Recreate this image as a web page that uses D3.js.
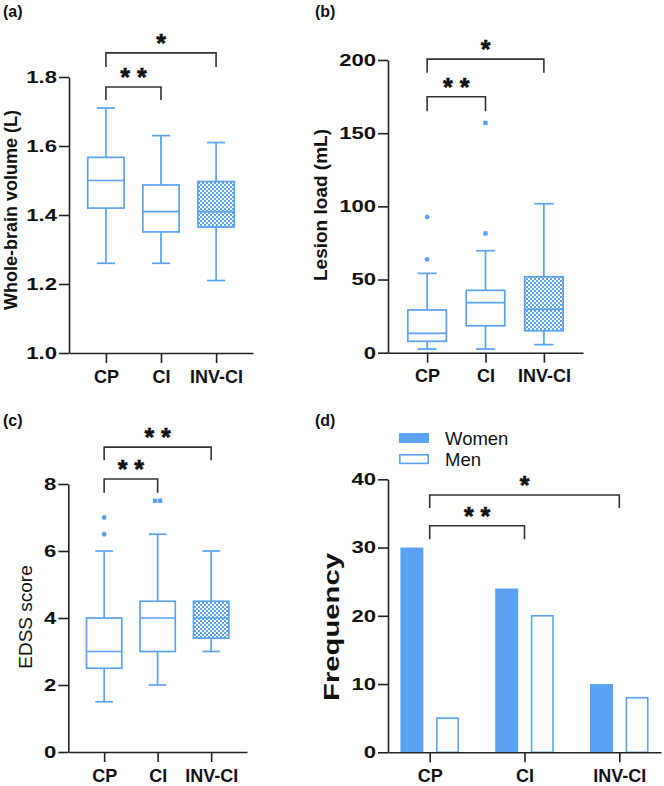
<!DOCTYPE html>
<html>
<head>
<meta charset="utf-8">
<script src="https://cdn.jsdelivr.net/npm/d3@7"></script>
<style>
  body { margin: 0; background: #fff; }
  svg { display: block; font-family: "Liberation Sans", Arial, sans-serif; }
</style>
</head>
<body>
<svg id="fig" width="664" height="786"></svg>
<script>
const groups = ["CP", "CI", "INV-CI"];

// box stats per group: [min, q1, median, q3, max]
const wbvStats = [[1.26, 1.42, 1.50, 1.567, 1.71], [1.26, 1.351, 1.41, 1.487, 1.63], [1.21, 1.365, 1.41, 1.497, 1.61]];
const wbvOutliers = [[], [], []];
const wbvTicks = [1.0, 1.2, 1.4, 1.6, 1.8];

const lesionStats = [[2.5, 7.8, 13.2, 29.2, 54.2], [2.5, 18.4, 34.2, 42.6, 69.7], [5.5, 15.0, 29.6, 51.9, 101.8]];
const lesionOutliers = [[63.8, 92.7], [81.5, 157], []];
const lesionTicks = [0, 50, 100, 150, 200];

const edssStats = [[1.5, 2.5, 3.0, 4.0, 6.0], [2.0, 3.0, 4.0, 4.5, 6.5], [3.0, 3.4, 4.0, 4.5, 6.0]];
const edssOutliers = [[6.5, 7.0], [7.5, 7.5], []];
const edssTicks = [0, 2, 4, 6, 8];

const sexes = ["Women", "Men"];
const women = [30, 24, 10];
const men = [5, 20, 8];
const freqTicks = [0, 10, 20, 30, 40];

const blue = "#5aa2f6";
const ink = "#222";

const svg = d3.select("#fig");

// checker pattern for INV-CI boxes
const pat = svg.append("defs").append("pattern")
    .attr("id", "check")
    .attr("width", 4).attr("height", 4)
    .attr("patternUnits", "userSpaceOnUse");
pat.append("rect").attr("width", 4).attr("height", 4).attr("fill", "#fff");
pat.append("rect").attr("width", 2).attr("height", 2).attr("fill", blue);
pat.append("rect").attr("x", 2).attr("y", 2).attr("width", 2).attr("height", 2).attr("fill", blue);

function drawAxes(x, y, ticks, fmt) {
    let xa = svg.append("g")
        .attr("transform", `translate(0,${y.range()[0]})`)
        .call(d3.axisBottom(x).tickSize(10).tickSizeOuter(0).tickPadding(7));
    xa.selectAll("text")
        .style("font-size", "18px").style("font-weight", "bold").attr("fill", "#111");

    let ya = svg.append("g")
        .attr("transform", `translate(${x.range()[0]},0)`)
        .call(d3.axisLeft(y).tickValues(ticks).tickFormat(fmt).tickSize(10).tickSizeOuter(0));
    // tick numbers are drawn wide in the original
    ya.selectAll("text")
        .style("font-size", "17px").style("font-weight", "bold").attr("fill", "#111")
        .attr("transform", "scale(1.3,1)")
        .attr("x", -12 / 1.3);

    svg.selectAll(".domain, .tick line").attr("stroke", ink).attr("stroke-width", 1.6);
}

function drawBoxes(x, y, stats, outliers) {
    let bw = x.step() * 0.66;
    let data = groups.map((g, i) => ({
        g, min: stats[i][0], q1: stats[i][1], med: stats[i][2], q3: stats[i][3], max: stats[i][4]
    }));
    let box = svg.append("g")
        .attr("stroke", blue).attr("stroke-width", 1.7).attr("fill", "none")
        .selectAll("g").data(data).join("g");

    box.append("line")
        .attr("x1", d => x(d.g)).attr("x2", d => x(d.g))
        .attr("y1", d => y(d.max)).attr("y2", d => y(d.min));
    box.append("line")
        .attr("x1", d => x(d.g) - bw / 4).attr("x2", d => x(d.g) + bw / 4)
        .attr("y1", d => y(d.max)).attr("y2", d => y(d.max));
    box.append("line")
        .attr("x1", d => x(d.g) - bw / 4).attr("x2", d => x(d.g) + bw / 4)
        .attr("y1", d => y(d.min)).attr("y2", d => y(d.min));
    box.append("rect")
        .attr("x", d => x(d.g) - bw / 2).attr("width", bw)
        .attr("y", d => y(d.q3)).attr("height", d => y(d.q1) - y(d.q3))
        .attr("fill", d => d.g === "INV-CI" ? "url(#check)" : "#fff");
    box.append("line")
        .attr("x1", d => x(d.g) - bw / 2).attr("x2", d => x(d.g) + bw / 2)
        .attr("y1", d => y(d.med)).attr("y2", d => y(d.med));

    // outliers: circles for CP, squares for CI; equal values sit side by side
    let pts = [];
    groups.forEach((g, i) => {
        outliers[i].forEach(v => {
            let same = outliers[i].filter(o => o === v);
            let k = pts.filter(p => p.g === g && p.v === v).length;
            pts.push({g, v, off: (k - (same.length - 1) / 2) * 5});
        });
    });
    svg.selectAll(null).data(pts.filter(p => p.g === "CP")).join("circle")
        .attr("cx", d => x(d.g) + d.off).attr("cy", d => y(d.v)).attr("r", 2.4).attr("fill", blue);
    svg.selectAll(null).data(pts.filter(p => p.g !== "CP")).join("rect")
        .attr("x", d => x(d.g) + d.off - 2.2).attr("y", d => y(d.v) - 2.2)
        .attr("width", 4.4).attr("height", 4.4).attr("fill", blue);
}

function bracket(x, y, from, to, top, leg, label) {
    svg.append("path")
        .attr("d", `M${x(from)},${y(leg)}V${y(top)}H${x(to)}V${y(leg)}`)
        .attr("fill", "none").attr("stroke", "#333").attr("stroke-width", 1.6);
    svg.append("text")
        .attr("x", (x(from) + x(to)) / 2).attr("y", y(top) - 1)
        .attr("text-anchor", "middle")
        .style("font-size", "25px").style("font-weight", "bold")
        .attr("fill", "#111").attr("stroke", "#111").attr("stroke-width", 0.6)
        .text(label);
}

function yTitle(tx, ty, label, size, weight, len) {
    let t = svg.append("text")
        .attr("transform", `translate(${tx},${ty}) rotate(-90)`)
        .attr("text-anchor", "middle")
        .style("font-size", size + "px").style("font-weight", weight).attr("fill", "#111")
        .text(label);
    if (len) t.attr("textLength", len).attr("lengthAdjust", "spacingAndGlyphs");
}

function panelLabel(tx, ty, label) {
    svg.append("text").attr("x", tx).attr("y", ty)
        .style("font-size", "16px").style("font-weight", "bold").attr("fill", "#111")
        .text(label);
}

// (a) whole-brain volume
let xa = d3.scalePoint().domain(groups).range([69, 253]).padding(0.67);
let ya = d3.scaleLinear().domain([1.0, 1.8]).range([353, 77]);
drawBoxes(xa, ya, wbvStats, wbvOutliers);
drawAxes(xa, ya, wbvTicks, d3.format(".1f"));
bracket(xa, ya, "CP", "CI", 1.771, 1.733, "* *");
bracket(xa, ya, "CP", "INV-CI", 1.87, 1.829, "*");
yTitle(16.5, 210, "Whole-brain volume (L)", 18, "bold");
panelLabel(3, 17, "(a)");

// (b) lesion load
let xb = d3.scalePoint().domain(groups).range([388, 583]).padding(0.67);
let yb = d3.scaleLinear().domain([0, 200]).range([352.7, 60]);
drawBoxes(xb, yb, lesionStats, lesionOutliers);
drawAxes(xb, yb, lesionTicks, d3.format("d"));
bracket(xb, yb, "CP", "CI", 174.9, 165, "* *");
bracket(xb, yb, "CP", "INV-CI", 200.6, 191.3, "*");
yTitle(327, 205, "Lesion load (mL)", 19, "bold");
panelLabel(315, 17, "(b)");

// (c) EDSS
let xc = d3.scalePoint().domain(groups).range([68.3, 247]).padding(0.67);
let yc = d3.scaleLinear().domain([0, 8]).range([752, 484]);
drawBoxes(xc, yc, edssStats, edssOutliers);
drawAxes(xc, yc, edssTicks, d3.format("d"));
bracket(xc, yc, "CP", "CI", 8.15, 7.74, "* *");
bracket(xc, yc, "CP", "INV-CI", 9.10, 8.71, "* *");
yTitle(32, 617, "EDSS score", 19, "normal");
panelLabel(3, 426, "(c)");

// (d) sex frequency
let xd = d3.scalePoint().domain(groups).range([388, 661]).padding(0.44);
let yd = d3.scaleLinear().domain([0, 40]).range([752.3, 479.3]);
let xs = d3.scaleBand().domain(sexes).range([-29.3, 29.3]).paddingInner(0.354);
let bars = groups.flatMap((g, i) => [
    {g, s: "Women", v: women[i]},
    {g, s: "Men", v: men[i]}
]);
svg.append("g").selectAll("rect").data(bars).join("rect")
    .attr("x", d => xd(d.g) + xs(d.s) + (d.s === "Men" ? 0.8 : 0))
    .attr("width", d => xs.bandwidth() - (d.s === "Men" ? 1.6 : 0))
    .attr("y", d => yd(d.v))
    .attr("height", d => yd(0) - yd(d.v))
    .attr("fill", d => d.s === "Women" ? blue : "#fff")
    .attr("stroke", d => d.s === "Men" ? blue : "none")
    .attr("stroke-width", 1.6);
drawAxes(xd, yd, freqTicks, d3.format("d"));
bracket(xd, yd, "CP", "CI", 33.2, 31.2, "* *");
bracket(xd, yd, "CP", "INV-CI", 37.7, 35.8, "*");
yTitle(339, 627, "Frequency", 22, "bold", 148);
panelLabel(315, 426, "(d)");

// legend
let leg = svg.append("g").attr("transform", "translate(399,433)");
leg.selectAll("rect").data(sexes).join("rect")
    .attr("x", d => d === "Men" ? 0.8 : 0)
    .attr("y", (d, i) => i * 21 + (d === "Men" ? 0.8 : 0))
    .attr("width", d => d === "Men" ? 28.4 : 30)
    .attr("height", d => d === "Men" ? 8.6 : 10)
    .attr("fill", d => d === "Women" ? blue : "#fff")
    .attr("stroke", d => d === "Men" ? blue : "none")
    .attr("stroke-width", 1.6);
leg.selectAll("text").data(sexes).join("text")
    .attr("x", 46)
    .attr("y", (d, i) => 12 + i * 21)
    .style("font-size", "18.5px").attr("fill", "#111")
    .text(d => d);
</script>
</body>
</html>
